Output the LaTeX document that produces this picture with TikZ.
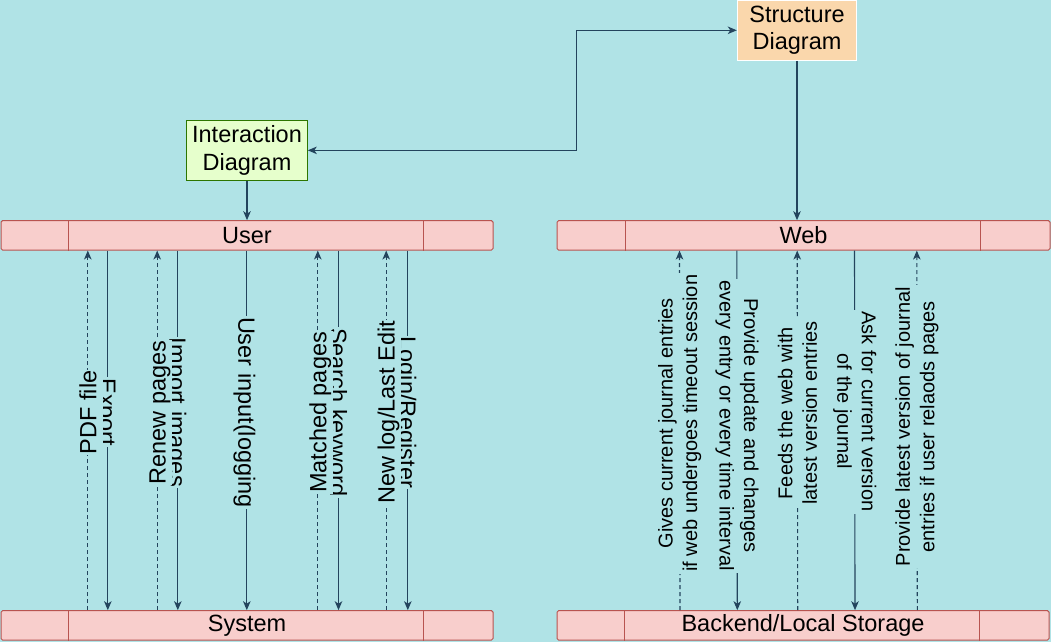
\documentclass[tikz,border=0pt]{standalone}
\usepackage{fontspec}
\setmainfont{Liberation Sans}
\usetikzlibrary{arrows.meta,calc}
\definecolor{bgc}{HTML}{B0E3E6}
\definecolor{barfill}{HTML}{F8CECC}
\definecolor{barstroke}{HTML}{B85450}
\definecolor{arrowc}{HTML}{23445D}
\definecolor{interfill}{HTML}{E6FFCC}
\definecolor{interstroke}{HTML}{2D7600}
\definecolor{structfill}{HTML}{FAD7AC}
\begin{document}
\begin{tikzpicture}[x=1pt,y=-1pt,
  bar/.style={draw=barstroke, fill=barfill, line width=1pt, rounded corners=1.5pt,
    minimum height=29.3pt, inner sep=0pt, font=\fontsize{23.5}{27.5}\selectfont},
  divider/.style={draw=barstroke, line width=1pt},
  diag/.style={line width=1pt, align=center, inner sep=0pt, font=\fontsize{23.5}{27.5}\selectfont},
  conn/.style={draw=arrowc, line width=1.1pt, -{Stealth[length=9pt,width=7.5pt,inset=2.5pt]}},
  both/.style={draw=arrowc, line width=1.1pt, {Stealth[length=9pt,width=7.5pt,inset=2.5pt]}-{Stealth[length=9pt,width=7.5pt,inset=2.5pt]}},
  ret/.style={conn, dash pattern=on 4pt off 3pt},
  lab/.style={fill=bgc, inner sep=1pt, text height=22.3pt, text depth=5.4pt, font=\fontsize{23.5}{27.5}\selectfont},
  rlab/.style={fill=bgc, inner sep=2pt, align=center, font=\fontsize{20}{24.5}\selectfont},
]
\useasboundingbox (0,0) rectangle (1051,642);
\fill[bgc] (0,0) rectangle (1051,642);

% top boxes
\node[diag, draw=interstroke, fill=interfill, minimum width=120.6pt, minimum height=60.7pt] (inter) at (247,150.35) {Interaction\\Diagram};
\node[diag, draw=white, fill=structfill, minimum width=119.4pt, minimum height=60pt] (struct) at (797,30.3) {Structure\\Diagram};
\coordinate (bend) at (576.7,150.35);

% bars
\node[bar, minimum width=492pt] (user) at (247,235.35) {User};
\node[bar, minimum width=492pt] (system) at (247,625.35) {System};
\node[bar, minimum width=493pt] (web) at (803.5,235.35) {Web};
\node[bar, minimum width=492pt] (backend) at (803,625.35) {Backend/Local Storage};
\foreach \b/\o in {user/68, user/423, system/68, system/423, web/69, web/424, backend/68, backend/423}{
  \draw[divider] ($(\b.north west)+(\o,0)$) -- ($(\b.south west)+(\o,0)$);
}

% diagram links
\draw[both] (inter.east) -- (bend) |- (struct.west);
\draw[conn] (inter.south) -- (user.north);
\draw[conn] (struct.south) -- (struct.south |- web.north);

% left: user -> system (solid)
\draw[conn] ($(user.south west)+(107.3,0)$) -- ($(system.north west)+(107.3,0)$) node[lab, rotate=-90, pos=0.45] {Export};
\draw[conn] ($(user.south west)+(177.3,0)$) -- ($(system.north west)+(177.3,0)$) node[lab, rotate=-90, pos=0.45] {Import images};
\draw[conn] ($(user.south west)+(246.3,0)$) -- ($(system.north west)+(246.3,0)$) node[lab, rotate=-90, pos=0.45] {User input(logging};
\draw[conn] ($(user.south west)+(338,0)$) -- ($(system.north west)+(338,0)$) node[lab, rotate=-90, pos=0.45] {Search keyword};
\draw[conn] ($(user.south west)+(407.3,0)$) -- ($(system.north west)+(407.3,0)$) node[lab, rotate=-90, pos=0.45] {Login/Register};
% left: system -> user (dashed)
\draw[ret] ($(system.north west)+(87.3,0)$) -- ($(user.south west)+(87.3,0)$) node[lab, rotate=90, pos=0.55] {PDF file};
\draw[ret] ($(system.north west)+(156.7,0)$) -- ($(user.south west)+(156.7,0)$) node[lab, rotate=90, pos=0.55] {Renew pages};
\draw[ret] ($(system.north west)+(317.3,0)$) -- ($(user.south west)+(317.3,0)$) node[lab, rotate=90, pos=0.55] {Matched pages};
\draw[ret] ($(system.north west)+(385.7,0)$) -- ($(user.south west)+(385.7,0)$) node[lab, rotate=90, pos=0.55] {New log/Last Edit};

% right: web -> backend (solid)
\draw[conn] ($(web.south west)+(180.3,0)$) -- ($(backend.north west)+(180.8,0)$) node[rlab, rotate=-90, pos=0.487] {Provide update and changes\\every entry or every time interval};
\draw[conn] ($(web.south west)+(298,0)$) -- ($(backend.north west)+(298.5,0)$) node[rlab, rotate=-90, pos=0.448] {Ask for current version\\of the journal};
% right: backend -> web (dashed)
\draw[ret] ($(backend.north west)+(123.5,0)$) -- ($(web.south west)+(123,0)$) node[rlab, rotate=90, pos=0.52] {Gives current journal entries\\if web undergoes timeout session};
\draw[ret] ($(backend.north west)+(241.2,0)$) -- ($(web.south west)+(240.7,0)$) node[rlab, rotate=90, pos=0.548] {Feeds the web with\\latest version entries};
\draw[ret] ($(backend.north west)+(360.8,0)$) -- ($(web.south west)+(360.3,0)$) node[rlab, rotate=90, pos=0.51] {Provide latest version of journal\\entries if user relaods pages};
\end{tikzpicture}
\end{document}
